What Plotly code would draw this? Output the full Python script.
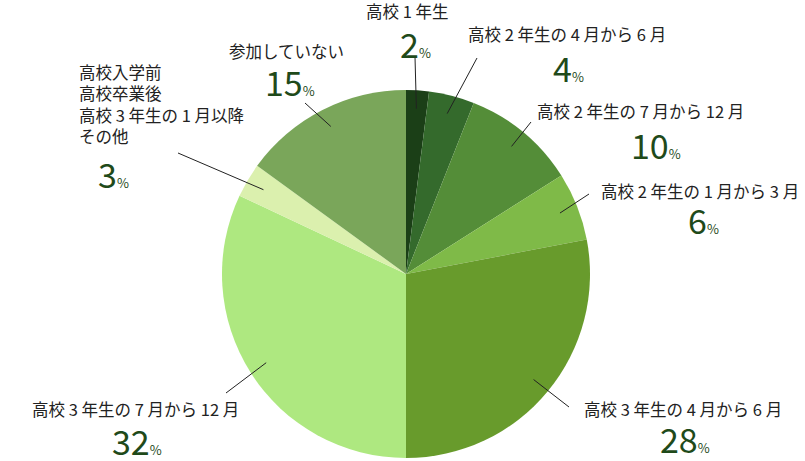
import math
import plotly.graph_objects as go

labels = ["高校 1 年生", "高校 2 年生の 4 月から 6 月", "高校 2 年生の 7 月から 12 月",
          "高校 2 年生の 1 月から 3 月", "高校 3 年生の 4 月から 6 月", "高校 3 年生の 7 月から 12 月",
          "高校入学前<br>高校卒業後<br>高校 3 年生の 1 月以降<br>その他", "参加していない"]
values = [2, 4, 10, 6, 28, 32, 3, 15]
colors = ["#1b3f17", "#346a2c", "#548d38", "#7fba48", "#689b2c", "#aee880", "#dbf0ae", "#7aa65a"]

# layout (pixels): label name center, number center, leader line outer end
name_pos = [(407, 11), (567, 34), (640, 111), (700, 191), (683, 409), (135, 409), (77, 104), (286, 51)]
num_pos = [(415, 43), (568, 67), (656, 144), (703, 219), (685, 438), (137, 440), (113, 173), (290, 81)]
line_end = [(415, 57), (477, 58), (531, 122), (589, 194), (569, 407), (226, 393), (178, 153), (305, 103)]

W, H = 805, 461
cx, cy, R = 406, 274, 184

fig = go.Figure()
fig.add_trace(go.Pie(
    values=values, labels=labels, sort=False, direction="clockwise", rotation=0,
    marker=dict(colors=colors, line=dict(width=0)), textinfo="none", hoverinfo="skip",
    showlegend=False,
    domain=dict(x=[(cx - R) / W, (cx + R) / W], y=[(H - cy - R) / H, (H - cy + R) / H]),
))

total = sum(values)
cum = 0
for i, v in enumerate(values):
    mid = (cum + v / 2) / total * 2 * math.pi
    cum += v
    r_in = 0.9 * R
    x0 = cx + r_in * math.sin(mid)
    y0 = cy - r_in * math.cos(mid)
    x1, y1 = line_end[i]
    fig.add_shape(type="line", x0=x0, y0=y0, x1=x1, y1=y1, xref="x", yref="y",
                  line=dict(color="#222222", width=1), layer="above")
    nx, ny = name_pos[i]
    multi = "<br>" in labels[i]
    fig.add_annotation(x=nx, y=ny, xref="x", yref="y", text=labels[i], showarrow=False,
                       xanchor="left" if multi else "center", yanchor="middle",
                       align="left", font=dict(family="Noto Sans CJK JP", size=16.5, color="#222222"))
    mx, my = num_pos[i]
    fig.add_annotation(x=mx, y=my, xref="x", yref="y",
                       text=f"<span style='font-size:34px'>{v}</span><span style='font-size:13px'>%</span>",
                       showarrow=False, xanchor="center", yanchor="middle",
                       font=dict(family="Noto Sans CJK JP", color="#1f4a1a"))

fig.update_layout(
    width=W, height=H, margin=dict(l=0, r=0, t=0, b=0),
    paper_bgcolor="white", plot_bgcolor="white",
    xaxis=dict(range=[0, W], visible=False, fixedrange=True),
    yaxis=dict(range=[H, 0], visible=False, fixedrange=True),
)
fig.write_html("out.html", config={"displayModeBar": False},
               post_script="document.body.style.margin='0';document.body.style.overflow='hidden';")
